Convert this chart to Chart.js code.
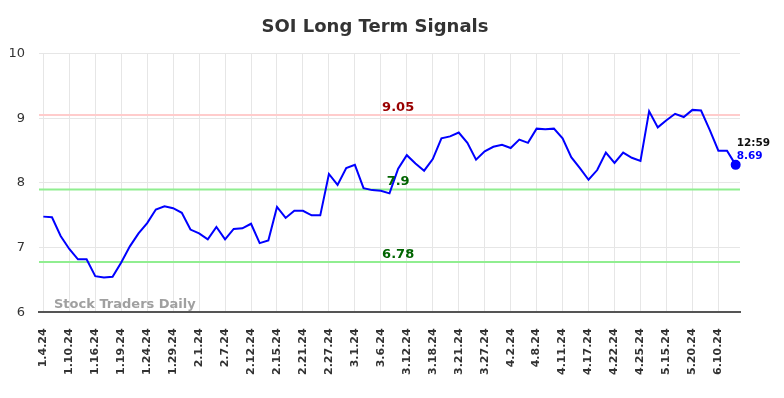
<!DOCTYPE html>
<html>
<head>
<meta charset="utf-8">
<script src="https://cdn.jsdelivr.net/npm/chart.js@4.4.1/dist/chart.umd.min.js"></script>
<style>
  html, body { margin: 0; padding: 0; background: #fff; }
  #wrap { width: 784px; height: 398px; }
</style>
</head>
<body>
<div id="wrap"><canvas id="soiChart"></canvas></div>
<script>
// tick labels shown on the x axis (every third session)
const tickLabels = [
  "1.4.24", "1.10.24", "1.16.24", "1.19.24", "1.24.24", "1.29.24", "2.1.24",
  "2.7.24", "2.12.24", "2.15.24", "2.21.24", "2.27.24", "3.1.24", "3.6.24",
  "3.12.24", "3.18.24", "3.21.24", "3.27.24", "4.2.24", "4.8.24", "4.11.24",
  "4.17.24", "4.22.24", "4.25.24", "5.15.24", "5.20.24", "6.10.24"
];

// closing prices
const prices = [
  7.48, 7.47, 7.18, 6.98, 6.82, 6.82, 6.56, 6.54, 6.55, 6.77,
  7.02, 7.22, 7.38, 7.59, 7.64, 7.61, 7.54, 7.28, 7.22, 7.13,
  7.32, 7.13, 7.29, 7.30, 7.37, 7.07, 7.11, 7.63, 7.46, 7.57,
  7.57, 7.50, 7.50, 8.14, 7.97, 8.23, 8.28, 7.92, 7.89, 7.88,
  7.84, 8.22, 8.43, 8.30, 8.19, 8.37, 8.69, 8.72, 8.78, 8.62,
  8.36, 8.49, 8.56, 8.59, 8.54, 8.67, 8.62, 8.84, 8.83, 8.84,
  8.69, 8.40, 8.23, 8.05, 8.20, 8.47, 8.31, 8.47, 8.39, 8.34,
  9.11, 8.86, 8.97, 9.07, 9.02, 9.13, 9.12, 8.82, 8.50, 8.50,
  8.28
];

// signal levels
const levelValues = [9.05, 7.9, 6.78];
const levelLabels = ["9.05", "7.9", "6.78"];
const levelLineColors = ["#ffcccc", "#90ee90", "#90ee90"];
const levelTextColors = ["#990000", "#006400", "#006400"];

const lastTime = "12:59";
const lastLabel = "8.69";

const categories = prices.map((_, i) => i);

const levelsPlugin = {
  id: "levels",
  beforeDatasetsDraw(chart) {
    const { ctx, chartArea, scales } = chart;
    ctx.save();
    ctx.lineWidth = 2;
    levelValues.forEach((v, i) => {
      const y = scales.y.getPixelForValue(v);
      ctx.strokeStyle = levelLineColors[i];
      ctx.beginPath();
      ctx.moveTo(chartArea.left, y);
      ctx.lineTo(chartArea.right, y);
      ctx.stroke();
    });
    ctx.restore();
  },
  afterDatasetsDraw(chart) {
    const { ctx, chartArea, scales } = chart;
    ctx.save();
    ctx.font = "bold 13px 'DejaVu Sans'";
    ctx.textAlign = "center";
    ctx.textBaseline = "alphabetic";
    const lx = scales.x.getPixelForValue(41);
    levelValues.forEach((v, i) => {
      const y = scales.y.getPixelForValue(v);
      ctx.fillStyle = levelTextColors[i];
      ctx.fillText(levelLabels[i], lx, y - 4);
    });

    // watermark
    ctx.font = "bold 13px 'DejaVu Sans'";
    ctx.textAlign = "left";
    ctx.fillStyle = "#a0a0a0";
    ctx.fillText("Stock Traders Daily", chartArea.left + 15, chartArea.bottom - 4);

    // last value tag
    const last = prices.length - 1;
    const px = scales.x.getPixelForValue(last);
    const py = scales.y.getPixelForValue(prices[last]);
    ctx.font = "bold 10.5px 'DejaVu Sans'";
    ctx.fillStyle = "#111";
    ctx.fillText(lastTime, px + 1, py - 19);
    ctx.fillStyle = "#0000ff";
    ctx.fillText(lastLabel, px + 1, py - 6);
    ctx.restore();
  }
};

const ctx = document.getElementById("soiChart").getContext("2d");
const chart = new Chart(ctx, {
  type: "line",
  data: {
    labels: categories,
    datasets: [
      {
        data: prices,
        borderColor: "#0000ff",
        backgroundColor: "#0000ff",
        borderWidth: 2,
        tension: 0,
        pointRadius: prices.map((_, i) => (i === prices.length - 1 ? 4 : 0)),
        pointHoverRadius: 0,
      },
    ],
  },
  options: {
    responsive: true,
    maintainAspectRatio: false,
    animation: false,
    layout: { padding: { left: 10, right: 44, top: 0, bottom: 7 } },
    plugins: {
      legend: { display: false },
      tooltip: { enabled: false },
      title: {
        display: true,
        text: "SOI Long Term Signals",
        color: "#333",
        font: { family: "'DejaVu Sans'", size: 18, weight: "bold" },
        padding: { top: 17, bottom: 15 },
      },
    },
    scales: {
      x: {
        offset: true,
        grid: { color: "#e6e6e6", drawTicks: false, offset: false },
        border: { color: "#555", width: 2 },
        afterFit: (scale) => {
          scale.paddingLeft = 0;
          scale.paddingRight = 0;
        },
        ticks: {
          autoSkip: false,
          maxRotation: 90,
          minRotation: 90,
          padding: 16,
          color: "#333",
          font: { family: "'DejaVu Sans'", size: 11, weight: "bold" },
          callback: (val, idx) => (idx % 3 === 0 ? tickLabels[idx / 3] : null),
        },
      },
      y: {
        min: 6,
        max: 10,
        grid: { color: "#e6e6e6", drawTicks: false },
        border: { display: false },
        afterFit: (scale) => {
          scale.width = 29;
        },
        ticks: {
          stepSize: 1,
          padding: 14,
          color: "#333",
          font: { family: "'DejaVu Sans'", size: 13 },
        },
      },
    },
  },
  plugins: [levelsPlugin],
});
</script>
</body>
</html>
